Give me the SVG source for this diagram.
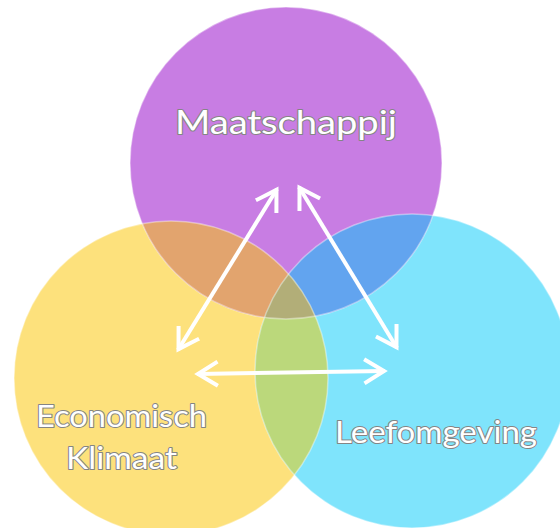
<svg xmlns="http://www.w3.org/2000/svg" width="560" height="528" viewBox="0 0 560 528">
<style>
.lbl{font-family:Lato,"Open Sans","Liberation Sans",sans-serif;fill:#fff;stroke:#858585;stroke-width:2;paint-order:stroke;stroke-linejoin:round}
.conn{stroke:#fff;stroke-width:4;fill:none;marker-start:url(#ah);marker-end:url(#ah)}
.edge{fill:none;stroke:#fff;stroke-opacity:0.4;stroke-width:1.5}
</style>
<defs>
<clipPath id="cP"><circle cx="286" cy="163" r="156"/></clipPath>
<clipPath id="cY"><circle cx="171" cy="378" r="157"/></clipPath>
<marker id="ah" markerUnits="userSpaceOnUse" orient="auto-start-reverse" markerWidth="40" markerHeight="40" viewBox="-30 -20 40 40" refX="0" refY="0" overflow="visible">
<path d="M-19,-11 L-1,0 L-19,11" fill="none" stroke="#fff" stroke-width="4" stroke-linecap="square"/>
</marker>
</defs>
<rect width="560" height="528" fill="#fff"/>
<g id="economisch">
<circle cx="171" cy="378" r="157" fill="#FDE17C"/>
</g>
<g id="leefomgeving">
<circle cx="412" cy="371" r="157" fill="#7FE4FC"/>
</g>
<g id="maatschappij">
<circle cx="286" cy="163" r="156" fill="#C87DE3"/>
</g>
<g id="overlaps">
<g clip-path="url(#cP)">
<circle cx="171" cy="378" r="157" fill="#E2A46E"/>
<circle cx="412" cy="371" r="157" fill="#62A4EF"/>
</g>
<g clip-path="url(#cY)">
<circle cx="412" cy="371" r="157" fill="#BBD87B"/>
<g clip-path="url(#cP)">
<circle cx="412" cy="371" r="157" fill="#B2AE78"/>
</g>
</g>
<circle class="edge" cx="171" cy="378" r="157"/>
<circle class="edge" cx="412" cy="371" r="157"/>
<circle class="edge" cx="286" cy="163" r="156"/>
</g>
<g id="labels">
<text class="lbl" x="175" y="134" font-size="32" textLength="222" lengthAdjust="spacingAndGlyphs">Maatschappij</text>
<text class="lbl" x="36" y="427" font-size="30" textLength="171" lengthAdjust="spacingAndGlyphs">Economisch</text>
<text class="lbl" x="66" y="469" font-size="30" textLength="111" lengthAdjust="spacingAndGlyphs">Klimaat</text>
<text class="lbl" x="335" y="443" font-size="30" textLength="202" lengthAdjust="spacingAndGlyphs">Leefomgeving</text>
</g>
<g id="connectors">
<line class="conn" x1="178" y1="350" x2="277" y2="189"/>
<line class="conn" x1="299" y1="187" x2="397" y2="348"/>
<line class="conn" x1="197" y1="374" x2="385" y2="371"/>
</g>
</svg>
